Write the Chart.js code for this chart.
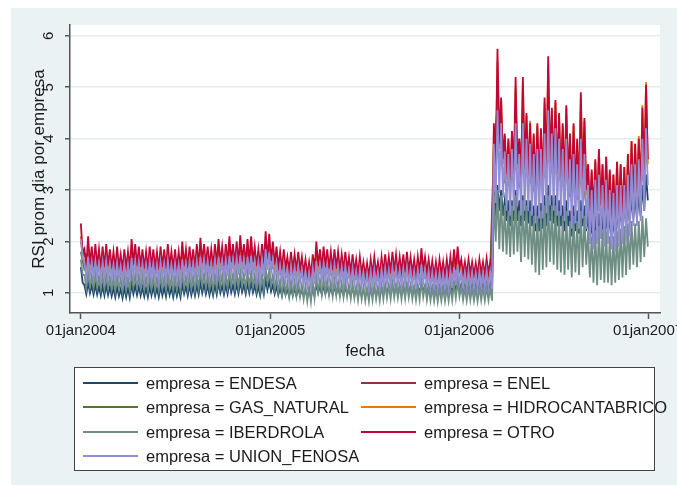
<!DOCTYPE html>
<html>
<head>
<meta charset="utf-8">
<script src="https://cdn.jsdelivr.net/npm/chart.js@4.4.1/dist/chart.umd.min.js"></script>
<style>
  body { margin: 0; background: #fff; }
  #marco { position: relative; width: 677px; height: 487px; font-family: "Liberation Sans", Arial, sans-serif; color: #1a1a1a; }
  #grafica { position: absolute; left: 0; top: 0; }
  #xtitulo { position: absolute; left: 315px; top: 341px; width: 100px; text-align: center; font-size: 16px; line-height: 20px; }
  #caja { position: absolute; left: 74px; top: 367px; width: 581px; height: 104px; box-sizing: border-box; border: 1px solid #444; background: #fff; }
  .linea { position: absolute; width: 55px; height: 2px; }
  .etiqueta { position: absolute; font-size: 16.5px; line-height: 20px; white-space: nowrap; }
</style>
</head>
<body>
<div id="marco">
  <canvas id="grafica" width="677" height="487"></canvas>
  <div id="xtitulo">fecha</div>
  <div id="caja"></div>
</div>
<script>
// empresas y colores (orden de la leyenda)
var empresas = ["ENDESA", "ENEL", "GAS_NATURAL", "HIDROCANTABRICO", "IBERDROLA", "OTRO", "UNION_FENOSA"];
var colores = ["#1a476f", "#90353b", "#55752f", "#e37e00", "#6e8e84", "#c10534", "#938dd2"];

// eje x: dias desde 01jan2004
var tickDias = [0, 366, 731, 1096];
var tickFechas = ["01jan2004", "01jan2005", "01jan2006", "01jan2007"];
var tickRsi = [1, 2, 3, 4, 5, 6];

// valores semanales: pico (dias laborables) y valle (fin de semana)
var otroPico = [2.35,1.85,2.1,1.9,1.95,1.85,1.9,1.95,1.85,1.8,
  1.9,1.75,1.85,1.8,2.05,1.95,1.9,1.85,1.8,1.9,
  1.85,1.8,1.9,1.85,1.95,1.8,1.85,1.8,2.0,1.85,
  1.9,1.85,1.95,2.07,1.95,1.9,1.85,1.95,2.05,1.9,
  1.95,2.1,1.95,2.0,2.12,1.95,2.05,2.1,1.9,1.85,
  1.95,2.2,2.15,2.0,1.9,1.8,1.85,1.7,1.8,1.75,
  1.8,1.7,1.65,1.6,1.75,2.0,1.85,1.9,1.85,1.8,
  1.85,1.8,1.75,1.8,1.7,1.75,1.65,1.7,1.6,1.58,
  1.65,1.7,1.6,1.7,1.75,1.7,1.8,1.75,1.7,1.75,
  1.8,1.7,1.65,1.7,1.87,1.7,1.65,1.62,1.6,1.65,
  1.6,1.65,1.7,1.85,1.9,1.65,1.6,1.65,1.6,1.58,
  1.65,1.6,1.67,1.6,
  4.3,5.75,4.8,4.1,4.0,4.15,5.2,4.0,5.2,4.5,
  4.3,4.1,4.3,4.2,4.8,5.6,4.6,4.75,4.5,4.3,
  4.65,4.1,4.3,4.0,4.9,4.4,3.5,3.4,3.6,3.8,
  3.5,3.65,3.4,3.3,3.55,3.5,3.45,3.7,3.95,3.9,
  4.0,4.6,5.05];
var otroValle = [1.75,1.5,1.55,1.5,1.52,1.48,1.5,1.52,1.47,1.45,
  1.5,1.42,1.48,1.45,1.55,1.52,1.5,1.47,1.45,1.5,
  1.48,1.45,1.5,1.47,1.52,1.45,1.48,1.45,1.52,1.48,
  1.5,1.48,1.52,1.58,1.55,1.52,1.5,1.55,1.58,1.52,
  1.55,1.6,1.55,1.57,1.6,1.55,1.58,1.6,1.52,1.5,
  1.55,1.65,1.62,1.55,1.5,1.45,1.48,1.4,1.45,1.42,
  1.45,1.38,1.35,1.32,1.4,1.52,1.47,1.5,1.47,1.45,
  1.47,1.45,1.42,1.45,1.38,1.4,1.35,1.38,1.32,1.3,
  1.35,1.38,1.32,1.38,1.4,1.38,1.42,1.4,1.38,1.4,
  1.42,1.38,1.35,1.38,1.45,1.38,1.35,1.33,1.32,1.35,
  1.32,1.35,1.38,1.45,1.48,1.38,1.35,1.37,1.35,1.33,
  1.37,1.35,1.38,1.35,
  3.5,3.9,3.6,3.3,3.2,3.3,3.5,3.2,3.4,3.3,
  3.2,3.0,3.1,3.1,3.3,3.5,3.3,3.3,3.2,3.1,
  3.2,2.9,3.0,2.9,3.2,3.0,2.6,2.5,2.6,2.7,
  2.55,2.6,2.45,2.4,2.5,2.5,2.5,2.6,2.8,2.8,
  2.9,3.2,3.6];

var hidroPico = [2.1,1.63,1.7,1.63,1.65,1.6,1.63,1.65,1.6,1.58,
  1.63,1.55,1.6,1.58,1.68,1.65,1.63,1.6,1.58,1.63,
  1.6,1.58,1.63,1.6,1.65,1.58,1.6,1.58,1.65,1.6,
  1.63,1.6,1.65,1.72,1.68,1.65,1.63,1.68,1.72,1.65,
  1.68,1.74,1.68,1.7,1.74,1.68,1.72,1.74,1.65,1.63,
  1.68,1.8,1.76,1.68,1.63,1.58,1.6,1.53,1.58,1.55,
  1.58,1.5,1.48,1.45,1.53,1.65,1.6,1.63,1.6,1.58,
  1.6,1.58,1.55,1.58,1.5,1.53,1.48,1.5,1.45,1.43,
  1.48,1.5,1.45,1.5,1.53,1.5,1.55,1.53,1.5,1.53,
  1.55,1.5,1.48,1.5,1.58,1.5,1.48,1.46,1.45,1.48,
  1.45,1.48,1.5,1.58,1.62,1.5,1.48,1.5,1.48,1.46,
  1.5,1.48,1.5,1.48,
  4.2,5.5,4.75,4.05,3.95,4.1,5.0,3.95,5.05,4.45,
  4.35,4.05,4.25,4.15,4.7,5.45,4.55,4.7,4.45,4.25,
  4.6,4.05,4.25,3.95,4.8,4.35,3.5,3.35,3.55,3.75,
  3.5,3.65,3.35,3.3,3.55,3.5,3.45,3.7,3.95,3.9,
  4.05,4.65,5.1];
var hidroValle = [1.65,1.45,1.5,1.45,1.47,1.43,1.45,1.47,1.42,1.4,
  1.44,1.38,1.42,1.4,1.5,1.47,1.45,1.42,1.4,1.45,
  1.42,1.4,1.45,1.42,1.47,1.4,1.42,1.4,1.48,1.43,
  1.45,1.43,1.47,1.52,1.5,1.47,1.45,1.5,1.52,1.47,
  1.5,1.55,1.5,1.52,1.55,1.5,1.53,1.55,1.47,1.45,
  1.5,1.6,1.57,1.5,1.45,1.4,1.43,1.35,1.4,1.37,
  1.4,1.33,1.3,1.27,1.35,1.47,1.42,1.45,1.42,1.4,
  1.42,1.4,1.37,1.4,1.33,1.35,1.3,1.33,1.27,1.25,
  1.3,1.33,1.27,1.33,1.35,1.33,1.37,1.35,1.33,1.35,
  1.37,1.33,1.3,1.33,1.4,1.32,1.3,1.28,1.27,1.3,
  1.27,1.3,1.32,1.38,1.42,1.32,1.3,1.32,1.3,1.28,
  1.32,1.3,1.33,1.3,
  3.4,3.8,3.5,3.2,3.1,3.2,3.4,3.1,3.3,3.2,
  3.1,2.9,3.0,3.0,3.2,3.4,3.2,3.2,3.1,3.0,
  3.1,2.8,2.9,2.8,3.1,2.9,2.5,2.4,2.5,2.6,
  2.45,2.5,2.35,2.3,2.4,2.4,2.4,2.5,2.7,2.7,
  2.8,3.1,3.5];

var unionPico = [2.05,1.6,1.7,1.6,1.62,1.58,1.6,1.62,1.57,1.55,
  1.58,1.52,1.56,1.55,1.68,1.62,1.6,1.57,1.55,1.6,
  1.57,1.55,1.6,1.57,1.62,1.55,1.57,1.55,1.65,1.58,
  1.6,1.58,1.62,1.7,1.65,1.62,1.58,1.64,1.7,1.63,
  1.65,1.72,1.65,1.68,1.73,1.65,1.7,1.72,1.62,1.6,
  1.65,1.85,1.78,1.65,1.58,1.52,1.55,1.47,1.52,1.5,
  1.52,1.45,1.42,1.4,1.48,1.62,1.55,1.57,1.55,1.52,
  1.55,1.52,1.5,1.52,1.45,1.48,1.42,1.45,1.4,1.38,
  1.42,1.45,1.4,1.45,1.48,1.45,1.5,1.48,1.45,1.47,
  1.5,1.45,1.42,1.45,1.55,1.45,1.42,1.4,1.38,1.4,
  1.38,1.4,1.43,1.5,1.55,1.42,1.4,1.42,1.4,1.38,
  1.42,1.4,1.43,1.4,
  3.9,4.55,4.3,3.75,3.7,3.8,4.3,3.7,4.3,4.0,
  3.9,3.7,3.8,3.8,4.1,4.55,4.1,4.2,4.0,3.8,
  4.0,3.6,3.7,3.5,4.0,3.7,3.1,3.0,3.2,3.3,
  3.1,3.2,3.0,2.95,3.1,3.1,3.1,3.3,3.5,3.5,
  3.6,4.0,4.2];
var unionValle = [1.7,1.3,1.32,1.3,1.3,1.28,1.28,1.3,1.27,1.25,
  1.28,1.22,1.25,1.24,1.32,1.3,1.28,1.26,1.25,1.28,
  1.26,1.24,1.28,1.26,1.3,1.25,1.27,1.25,1.32,1.28,
  1.3,1.28,1.3,1.36,1.33,1.3,1.28,1.32,1.36,1.3,
  1.32,1.38,1.33,1.35,1.38,1.32,1.35,1.37,1.3,1.28,
  1.32,1.45,1.4,1.32,1.27,1.22,1.24,1.18,1.22,1.2,
  1.2,1.15,1.12,1.1,1.17,1.28,1.23,1.25,1.23,1.2,
  1.22,1.2,1.18,1.2,1.15,1.17,1.12,1.14,1.1,1.08,
  1.12,1.14,1.1,1.14,1.17,1.14,1.18,1.16,1.14,1.16,
  1.18,1.14,1.12,1.14,1.2,1.13,1.1,1.08,1.07,1.08,
  1.07,1.08,1.1,1.15,1.18,1.1,1.08,1.1,1.08,1.07,
  1.1,1.08,1.1,1.08,
  2.75,2.95,2.85,2.6,2.5,2.6,2.7,2.5,2.6,2.6,
  2.5,2.35,2.45,2.45,2.55,2.7,2.6,2.5,2.5,2.4,
  2.5,2.25,2.35,2.25,2.45,2.25,1.95,1.85,1.95,2.05,
  1.9,1.95,1.85,1.8,1.9,1.95,2.0,2.1,2.3,2.3,
  2.4,2.6,3.1];

var iberPico = [1.65,1.35,1.42,1.35,1.37,1.33,1.35,1.36,1.32,1.3,
  1.33,1.28,1.31,1.3,1.4,1.36,1.35,1.32,1.3,1.34,
  1.32,1.3,1.34,1.32,1.36,1.3,1.32,1.3,1.38,1.33,
  1.35,1.33,1.36,1.42,1.38,1.36,1.33,1.37,1.41,1.36,
  1.37,1.42,1.37,1.39,1.43,1.37,1.4,1.42,1.35,1.33,
  1.36,1.5,1.45,1.35,1.3,1.25,1.27,1.2,1.24,1.22,
  1.22,1.17,1.13,1.12,1.2,1.32,1.26,1.28,1.25,1.22,
  1.24,1.22,1.2,1.22,1.16,1.18,1.13,1.15,1.12,1.1,
  1.13,1.15,1.12,1.15,1.18,1.15,1.19,1.17,1.15,1.16,
  1.19,1.15,1.12,1.14,1.22,1.14,1.12,1.1,1.09,1.1,
  1.09,1.1,1.13,1.18,1.22,1.12,1.1,1.12,1.1,1.09,
  1.12,1.1,1.12,1.1,
  2.9,3.0,2.9,2.7,2.6,2.7,2.9,2.6,2.8,2.7,
  2.6,2.5,2.5,2.6,2.7,2.9,2.7,2.7,2.6,2.5,
  2.6,2.4,2.5,2.4,2.6,2.5,2.2,2.1,2.2,2.3,
  2.2,2.2,2.1,2.1,2.2,2.25,2.3,2.35,2.4,2.35,
  2.4,2.5,2.45];
var iberValle = [1.35,1.1,1.12,1.1,1.1,1.08,1.08,1.1,1.07,1.05,
  1.07,1.03,1.05,1.05,1.12,1.1,1.08,1.06,1.05,1.08,
  1.06,1.05,1.08,1.06,1.1,1.05,1.06,1.05,1.1,1.07,
  1.08,1.06,1.09,1.14,1.1,1.08,1.06,1.09,1.12,1.08,
  1.1,1.14,1.1,1.11,1.14,1.09,1.12,1.13,1.07,1.05,
  1.08,1.2,1.15,1.07,1.02,0.97,0.99,0.93,0.96,0.94,
  0.93,0.88,0.84,0.83,0.9,1.02,0.97,0.99,0.96,0.94,
  0.95,0.93,0.92,0.93,0.89,0.9,0.86,0.88,0.85,0.84,
  0.86,0.88,0.85,0.88,0.9,0.88,0.91,0.9,0.88,0.89,
  0.91,0.88,0.86,0.87,0.92,0.86,0.85,0.84,0.83,0.85,
  0.84,0.85,0.86,0.9,0.93,0.86,0.85,0.86,0.85,0.84,
  0.86,0.85,0.86,0.85,
  2.0,1.85,1.8,1.75,1.7,1.75,1.8,1.6,1.7,1.65,
  1.55,1.4,1.35,1.45,1.5,1.6,1.55,1.45,1.4,1.35,
  1.45,1.3,1.4,1.35,1.5,1.55,1.3,1.2,1.15,1.25,
  1.2,1.2,1.15,1.2,1.25,1.3,1.35,1.45,1.55,1.5,
  1.6,1.7,1.9];

var endesaPico = [1.5,1.15,1.2,1.15,1.16,1.13,1.14,1.15,1.12,1.1,
  1.12,1.08,1.1,1.1,1.18,1.15,1.13,1.11,1.1,1.13,
  1.12,1.1,1.13,1.11,1.15,1.1,1.12,1.1,1.17,1.13,
  1.15,1.13,1.15,1.2,1.17,1.15,1.13,1.16,1.19,1.15,
  1.16,1.2,1.16,1.18,1.21,1.16,1.19,1.2,1.15,1.13,
  1.16,1.27,1.23,1.16,1.13,1.1,1.12,1.08,1.1,1.09,
  1.1,1.07,1.05,1.05,1.09,1.17,1.13,1.15,1.13,1.12,
  1.13,1.12,1.1,1.12,1.08,1.1,1.07,1.08,1.06,1.05,
  1.08,1.1,1.08,1.11,1.13,1.12,1.15,1.14,1.13,1.14,
  1.16,1.13,1.11,1.13,1.2,1.14,1.13,1.12,1.12,1.13,
  1.13,1.14,1.16,1.2,1.24,1.17,1.16,1.18,1.17,1.16,
  1.2,1.18,1.2,1.18,
  3.0,3.1,3.0,2.8,2.8,2.8,3.0,2.8,2.9,2.8,
  2.8,2.7,2.7,2.75,2.9,3.1,2.9,2.9,2.8,2.7,
  2.8,2.6,2.7,2.6,2.8,2.7,2.5,2.4,2.5,2.55,
  2.5,2.55,2.5,2.45,2.6,2.65,2.7,2.75,2.85,2.85,
  2.9,3.1,3.3];
var endesaValle = [1.2,0.98,1.0,0.97,0.97,0.95,0.95,0.96,0.94,0.92,
  0.94,0.9,0.92,0.91,0.98,0.96,0.95,0.93,0.92,0.95,
  0.94,0.92,0.95,0.93,0.96,0.92,0.94,0.92,0.98,0.95,
  0.96,0.95,0.97,1.0,0.98,0.96,0.95,0.97,1.0,0.97,
  0.98,1.01,0.98,0.99,1.02,0.98,1.0,1.01,0.97,0.95,
  0.98,1.06,1.03,0.98,0.96,0.95,0.96,0.93,0.95,0.94,
  0.95,0.93,0.92,0.92,0.95,1.0,0.98,0.99,0.98,0.97,
  0.98,0.97,0.96,0.97,0.95,0.96,0.94,0.95,0.94,0.93,
  0.95,0.96,0.95,0.97,0.99,0.98,1.0,0.99,0.99,1.0,
  1.01,0.99,0.98,0.99,1.03,1.0,0.99,0.98,0.98,0.99,
  0.99,1.0,1.01,1.04,1.06,1.02,1.01,1.03,1.02,1.02,
  1.05,1.04,1.05,1.05,
  2.5,2.6,2.5,2.4,2.3,2.4,2.4,2.3,2.4,2.35,
  2.3,2.2,2.2,2.25,2.3,2.4,2.35,2.3,2.3,2.2,
  2.3,2.1,2.2,2.15,2.3,2.2,2.0,1.95,2.0,2.05,
  2.0,2.1,2.05,2.0,2.2,2.25,2.3,2.35,2.45,2.45,
  2.5,2.6,2.8];

// ENEL y GAS_NATURAL: un valor por semana (quedan tapadas por las demas)
var enelSemana = [2.0,1.72,1.75,1.68,1.7,1.66,1.68,1.7,1.65,1.62,
  1.66,1.6,1.64,1.62,1.75,1.7,1.68,1.65,1.63,1.68,
  1.65,1.63,1.66,1.64,1.7,1.62,1.65,1.63,1.72,1.66,
  1.68,1.66,1.7,1.76,1.72,1.7,1.66,1.72,1.78,1.7,
  1.72,1.8,1.73,1.76,1.82,1.73,1.78,1.8,1.7,1.66,
  1.72,1.88,1.85,1.74,1.68,1.62,1.64,1.55,1.6,1.57,
  1.6,1.53,1.48,1.45,1.55,1.72,1.63,1.67,1.64,1.6,
  1.64,1.6,1.57,1.6,1.52,1.55,1.48,1.52,1.44,1.43,
  1.48,1.52,1.45,1.52,1.55,1.52,1.58,1.55,1.52,1.55,
  1.59,1.52,1.48,1.52,1.62,1.52,1.48,1.46,1.44,1.48,
  1.44,1.48,1.52,1.62,1.66,1.5,1.46,1.5,1.46,1.44,
  1.49,1.46,1.5,1.46,
  3.8,4.6,4.1,3.6,3.5,3.6,4.2,3.5,4.2,3.8,
  3.7,3.5,3.6,3.6,3.9,4.4,3.9,3.9,3.8,3.6,
  3.9,3.4,3.6,3.4,3.9,3.6,3.0,2.9,3.1,3.2,
  3.0,3.1,2.9,2.8,3.0,2.95,2.95,3.1,3.35,3.3,
  3.45,3.8,4.2];
var gasSemana = [1.8,1.45,1.5,1.45,1.46,1.43,1.44,1.46,1.42,1.4,
  1.43,1.37,1.4,1.39,1.5,1.46,1.44,1.41,1.4,1.44,
  1.41,1.39,1.44,1.41,1.46,1.4,1.42,1.4,1.48,1.43,
  1.45,1.43,1.46,1.53,1.49,1.46,1.43,1.48,1.53,1.46,
  1.48,1.55,1.49,1.51,1.55,1.48,1.52,1.54,1.46,1.44,
  1.48,1.65,1.59,1.48,1.42,1.37,1.39,1.32,1.37,1.35,
  1.36,1.3,1.27,1.25,1.32,1.45,1.39,1.41,1.39,1.36,
  1.38,1.36,1.34,1.36,1.3,1.32,1.27,1.3,1.25,1.23,
  1.27,1.3,1.25,1.3,1.32,1.3,1.34,1.32,1.3,1.32,
  1.34,1.3,1.27,1.3,1.37,1.29,1.26,1.24,1.22,1.24,
  1.22,1.24,1.26,1.32,1.36,1.26,1.24,1.26,1.24,1.22,
  1.26,1.24,1.27,1.24,
  3.3,3.8,3.6,3.15,3.1,3.2,3.5,3.1,3.45,3.3,
  3.2,3.0,3.1,3.1,3.3,3.65,3.35,3.35,3.25,3.1,
  3.25,2.9,3.0,2.85,3.2,2.95,2.5,2.4,2.55,2.65,
  2.5,2.55,2.4,2.35,2.45,2.5,2.5,2.65,2.85,2.85,
  2.95,3.25,3.6];

function puntos(pico, valle) {
    var lista = [];
    for (var w = 0; w < pico.length; w++) {
        lista.push({ x: w * 7, y: pico[w] });
        if (valle) {
            lista.push({ x: w * 7 + 3.5, y: valle[w] });
        }
    }
    return lista;
}

var series = [
    puntos(endesaPico, endesaValle),
    puntos(enelSemana),
    puntos(gasSemana),
    puntos(hidroPico, hidroValle),
    puntos(iberPico, iberValle),
    puntos(otroPico, otroValle),
    puntos(unionPico, unionValle)
];

// fondo gris azulado y area de grafico blanca
var fondo = {
    id: "fondo",
    beforeDraw: function (chart) {
        var c = chart.ctx, a = chart.chartArea;
        c.save();
        c.fillStyle = "#ffffff";
        c.fillRect(0, 0, chart.width, chart.height);
        c.fillStyle = "#eaf2f3";
        c.fillRect(11, 8, chart.width - 11, chart.height - 10);
        c.fillStyle = "#ffffff";
        c.fillRect(a.left, a.top, a.right - a.left, a.bottom - a.top);
        c.restore();
    }
};

// etiquetas verticales del eje y y su titulo
var ejeY = {
    id: "ejeY",
    afterDraw: function (chart) {
        var c = chart.ctx, s = chart.scales.y;
        c.save();
        c.fillStyle = "#1a1a1a";
        c.textAlign = "center";
        c.textBaseline = "middle";
        c.font = '15px "Liberation Sans"';
        tickRsi.forEach(function (v) {
            c.save();
            c.translate(49, s.getPixelForValue(v));
            c.rotate(-Math.PI / 2);
            c.fillText(String(v), 0, 0);
            c.restore();
        });
        c.font = '17px "Liberation Sans"';
        c.translate(39, (s.top + s.bottom) / 2);
        c.rotate(-Math.PI / 2);
        c.fillText("RSI prom dia por empresa", 0, 0);
        c.restore();
    }
};

var datasets = empresas.map(function (nombre, i) {
    return {
        label: "empresa = " + nombre,
        data: series[i],
        borderColor: colores[i],
        borderWidth: 1.8,
        pointRadius: 0,
        fill: false,
        tension: 0,
        order: empresas.length - i
    };
});

var miCanvas = document.getElementById("grafica").getContext("2d");
var chart = new Chart(miCanvas, {
    type: "line",
    data: { datasets: datasets },
    options: {
        responsive: false,
        animation: false,
        events: [],
        layout: { padding: { left: 11, top: 25, right: 17, bottom: 0 } },
        plugins: { legend: { display: false }, tooltip: { enabled: false } },
        scales: {
            x: {
                type: "linear",
                min: -21,
                max: 1119,
                afterBuildTicks: function (s) {
                    s.ticks = tickDias.map(function (v) { return { value: v }; });
                },
                afterFit: function (s) {
                    s.height = 174;
                    s.paddingLeft = 0;
                    s.paddingRight = 0;
                },
                ticks: {
                    autoSkip: false,
                    maxRotation: 0,
                    minRotation: 0,
                    padding: 3,
                    color: "#1a1a1a",
                    font: { family: "Liberation Sans", size: 15 },
                    callback: function (v) { return tickFechas[tickDias.indexOf(v)]; }
                },
                grid: { drawOnChartArea: false, drawTicks: true, tickLength: 6, tickColor: "#555", tickWidth: 1.5 },
                border: { display: true, color: "#555", width: 1.5 }
            },
            y: {
                min: 0.61,
                max: 6.21,
                afterBuildTicks: function (s) {
                    s.ticks = tickRsi.map(function (v) { return { value: v }; });
                },
                afterFit: function (s) {
                    s.width = 59;
                    s.paddingTop = 0;
                    s.paddingBottom = 0;
                },
                ticks: { display: false },
                grid: { color: "#e3ecef", lineWidth: 1.5, drawTicks: true, tickLength: 5, tickColor: "#555", tickWidth: 1.5 },
                border: { display: true, color: "#555", width: 1.5 }
            }
        }
    },
    plugins: [fondo, ejeY]
});

// leyenda en dos columnas, como en el original
var marco = document.getElementById("marco");
var colLinea = [83, 361], colTexto = [146, 424];
empresas.forEach(function (nombre, i) {
    var fila = Math.floor(i / 2), col = i % 2;
    var yFila = 383 + fila * 24.3;
    var l = document.createElement("div");
    l.className = "linea";
    l.style.left = colLinea[col] + "px";
    l.style.top = (yFila - 1) + "px";
    l.style.background = colores[i];
    marco.appendChild(l);
    var t = document.createElement("div");
    t.className = "etiqueta";
    t.style.left = colTexto[col] + "px";
    t.style.top = (yFila - 10) + "px";
    t.textContent = "empresa = " + nombre;
    marco.appendChild(t);
});
</script>
</body>
</html>
